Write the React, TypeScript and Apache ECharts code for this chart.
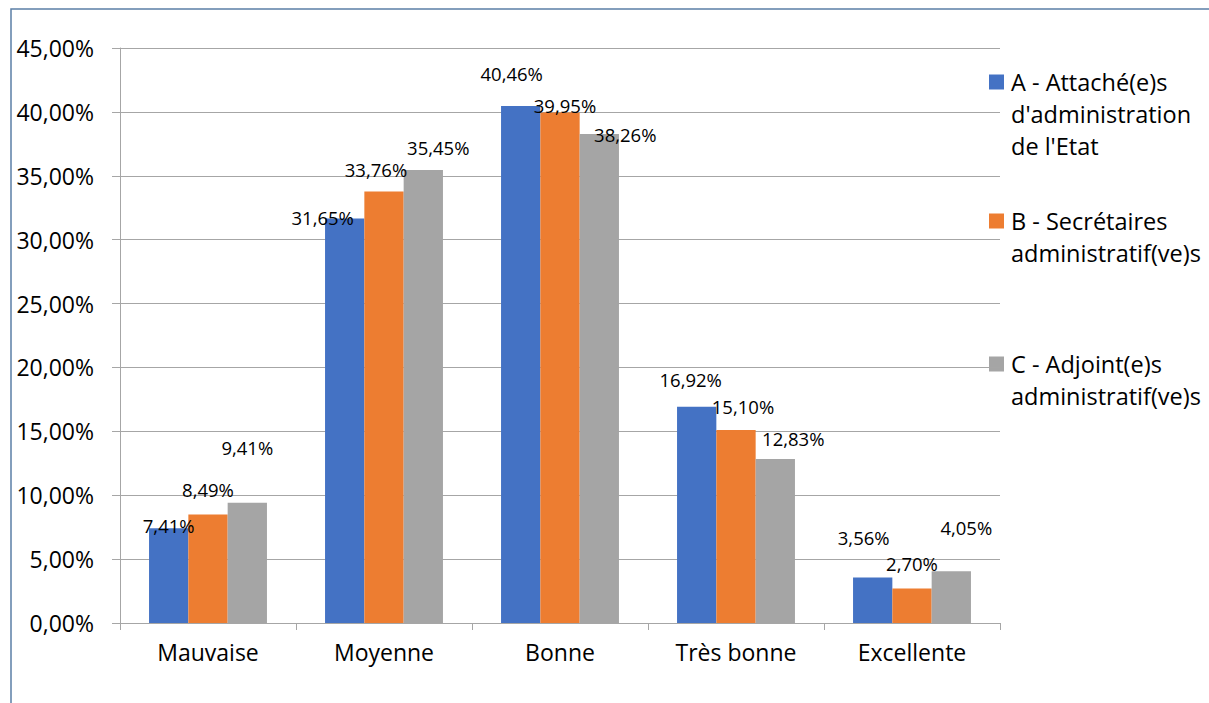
import React, { useEffect, useRef } from "react";
import * as echarts from "echarts";

const categories = ["Mauvaise", "Moyenne", "Bonne", "Très bonne", "Excellente"];
const seriesNames = [
  "A - Attaché(e)s d'administration de l'Etat",
  "B - Secrétaires administratif(ve)s",
  "C - Adjoint(e)s administratif(ve)s",
];
const legendLines = [
  ["A - Attaché(e)s", "d'administration", "de l'Etat"],
  ["B - Secrétaires", "administratif(ve)s"],
  ["C - Adjoint(e)s", "administratif(ve)s"],
];
const valuesA = [7.41, 31.65, 40.46, 16.92, 3.56];
const valuesB = [8.49, 33.76, 39.95, 15.1, 2.7];
const valuesC = [9.41, 35.45, 38.26, 12.83, 4.05];
const yTicks = { min: 0, max: 45, interval: 5 };

// label offsets (dx, dy of label centre relative to bar top centre), as placed in the source
const labelOffsetsA = [[0, -3], [-22, -1], [-9, -33], [-6, -27], [-9, -40]];
const labelOffsetsB = [[0, -25], [-8, -22], [5, -7], [7, -24], [0, -25]];
const labelOffsetsC = [[0, -55], [15, -23], [26, 0], [18, -21], [15, -44]];

const colors = ["#4472C4", "#ED7D31", "#A5A5A5"];
const FONT = "'Open Sans', sans-serif";

const fmt = (v: number) => v.toFixed(2).replace(".", ",") + "%";

export default function App() {
  const ref = useRef<HTMLDivElement>(null);
  useEffect(() => {
    if (!ref.current) return;
    const chart = echarts.init(ref.current, null, { renderer: "svg" });
    const LH = 22;
    const mk = (name: string, vals: number[], offs: number[][], color: string) => ({
      name,
      type: "bar",
      barGap: "0%",
      barCategoryGap: "33%",
      itemStyle: { color },
      data: vals.map((v, i) => ({
        value: v,
        label: {
          show: true,
          position: "top",
          distance: 0,
          offset: [offs[i][0], offs[i][1] + LH / 2],
          formatter: () => fmt(v),
          color: "#000",
          fontSize: 18.5,
          fontFamily: FONT,
          lineHeight: LH,
        },
      })),
    });
    const legendGraphics: any[] = [];
    const legendTop = [82, 221, 364];
    legendLines.forEach((lines, si) => {
      legendGraphics.push({
        type: "rect",
        shape: { x: 989, y: legendTop[si] - 7.5, width: 15, height: 15 },
        style: { fill: colors[si] },
      });
      lines.forEach((t, li) => {
        legendGraphics.push({
          type: "text",
          x: 1011,
          y: legendTop[si] + li * 32,
          style: {
            text: t,
            fill: "#000",
            font: `23.5px ${FONT}`,
            textVerticalAlign: "middle",
          },
        });
      });
    });
    chart.setOption({
      animation: false,
      grid: { left: 120, top: 48, right: 209, bottom: 80 },
      xAxis: {
        type: "category",
        data: categories,
        axisLine: { lineStyle: { color: "#a6a6a6", width: 1 } },
        axisTick: { show: true, length: 7, lineStyle: { color: "#a6a6a6" } },
        axisLabel: { color: "#000", fontSize: 23, fontFamily: FONT, margin: 17 },
      },
      yAxis: {
        type: "value",
        min: yTicks.min,
        max: yTicks.max,
        interval: yTicks.interval,
        axisLine: { show: true, lineStyle: { color: "#a6a6a6", width: 1 } },
        axisTick: { show: true, length: 8, lineStyle: { color: "#a6a6a6" } },
        splitLine: { lineStyle: { color: "#a6a6a6", width: 1 } },
        axisLabel: {
          color: "#000",
          fontSize: 23,
          fontFamily: FONT,
          margin: 26,
          formatter: (v: number) => fmt(v),
        },
      },
      series: [
        mk(seriesNames[0], valuesA, labelOffsetsA, colors[0]),
        mk(seriesNames[1], valuesB, labelOffsetsB, colors[1]),
        mk(seriesNames[2], valuesC, labelOffsetsC, colors[2]),
      ],
      graphic: [
        {
          type: "rect",
          shape: { x: 11, y: 9, width: 1300, height: 900 },
          style: { fill: "none", stroke: "#5b7fa6", lineWidth: 1.5 },
          silent: true,
        },
        ...legendGraphics,
      ],
    });
    return () => chart.dispose();
  }, []);
  return (
    <div
      ref={ref}
      style={{ position: "fixed", left: 0, top: 0, width: 1209, height: 703, background: "#fff" }}
    />
  );
}
